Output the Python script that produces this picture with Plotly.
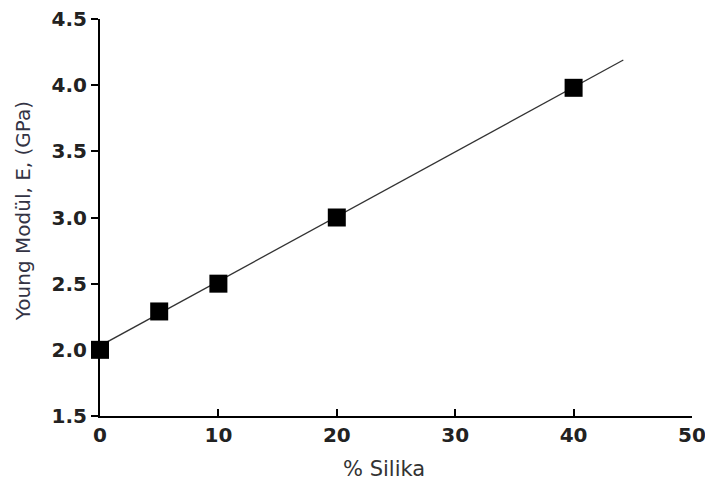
import plotly.graph_objects as go

silika = [0, 5, 10, 20, 40]
young = [2.0, 2.29, 2.5, 3.0, 3.98]
fit_x = [0, 44.2]
fit_y = [2.03, 4.19]
x_ticks = [0, 10, 20, 30, 40, 50]
y_ticks = [1.5, 2.0, 2.5, 3.0, 3.5, 4.0, 4.5]
y_labels = ["1.5", "2.0", "2.5", "3.0", "3.5", "4.0", "4.5"]

FONT = "DejaVu Sans, Arial, sans-serif"

fig = go.Figure()
fig.add_trace(go.Scatter(x=fit_x, y=fit_y, mode="lines",
                         line=dict(color="#333333", width=1.3),
                         cliponaxis=False, showlegend=False))
fig.add_trace(go.Scatter(x=silika, y=young, mode="markers",
                         marker=dict(symbol="square", size=18, color="black"),
                         cliponaxis=False, showlegend=False))

tickfont = dict(family=FONT, size=20, color="#222222")
fig.update_layout(
    width=705, height=484,
    margin=dict(l=100, r=13, t=19, b=68),
    paper_bgcolor="white", plot_bgcolor="white",
    xaxis=dict(range=[0, 50], tickvals=x_ticks,
               ticktext=[f"<b>{t}</b>" for t in x_ticks],
               ticks="inside", ticklen=7,
               tickwidth=1.5, tickcolor="black",
               showline=True, linecolor="black", linewidth=2,
               showgrid=False, zeroline=False, automargin=False,
               ticklabeloverflow="allow",
               tickfont=tickfont),
    yaxis=dict(range=[1.5, 4.5], tickvals=y_ticks, ticktext=[f"<b>{t}</b>" for t in y_labels],
               ticks="outside", ticklen=7, tickwidth=1.5, tickcolor="black",
               showline=True, linecolor="black", linewidth=2,
               showgrid=False, zeroline=False, automargin=False,
               ticklabeloverflow="allow",
               tickfont=tickfont),
    annotations=[
        dict(text="% Silika", xref="paper", yref="paper", x=0.48, y=-0.1335,
             xanchor="center", yanchor="middle", showarrow=False,
             font=dict(family=FONT, size=21, color="#333333")),
        dict(text="Young Modül, E, (GPa)", xref="paper", yref="paper", x=-0.13, y=0.516,
             xanchor="center", yanchor="middle", textangle=-90, showarrow=False,
             font=dict(family=FONT, size=20, color="#333344")),
    ],
)
fig.write_html("out.html", config={"displayModeBar": False},
               post_script="document.body.style.margin='0';document.body.style.padding='0';")
